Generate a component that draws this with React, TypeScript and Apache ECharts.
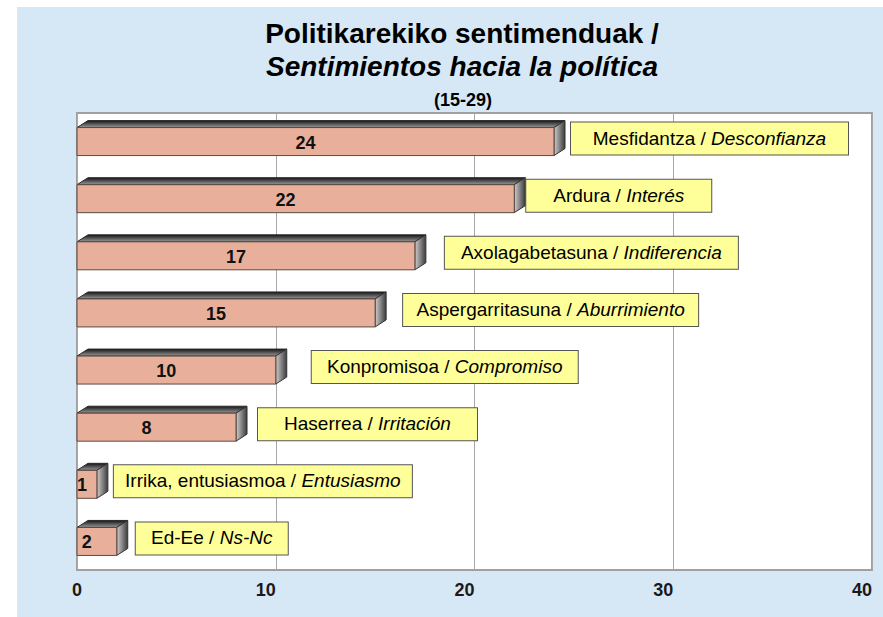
import React, { useEffect, useRef } from 'react';
import * as echarts from 'echarts';

// ---- data ----
const categoriesEu = ['Mesfidantza', 'Ardura', 'Axolagabetasuna', 'Aspergarritasuna', 'Konpromisoa', 'Haserrea', 'Irrika, entusiasmoa', 'Ed-Ee'];
const categoriesEs = ['Desconfianza', 'Interés', 'Indiferencia', 'Aburrimiento', 'Compromiso', 'Irritación', 'Entusiasmo', 'Ns-Nc'];
const values = [24, 22, 17, 15, 10, 8, 1, 2];
const xMin = 0;
const xMax = 40;
const xInterval = 10;

const titleLine1 = 'Politikarekiko sentimenduak /';
const titleLine2 = 'Sentimientos hacia la política';
const titleLine3 = '(15-29)';

// ---- layout (not data) ----
const labelGaps = [17, 12, 30, 28, 36, 22, 17, 19];
const labelBoxWidths = [279, 187, 295, 297, 268, 221, 300, 154];
const FONT = '"Liberation Sans", Arial, Helvetica, sans-serif';
const LABEL_SIZE = 19;

function measure(text: string, italic: boolean): number {
  const c = document.createElement('canvas').getContext('2d');
  if (!c) return text.length * LABEL_SIZE * 0.5;
  c.font = `${italic ? 'italic ' : ''}${LABEL_SIZE}px ${FONT}`;
  return c.measureText(text).width;
}

export default function App() {
  const ref = useRef<HTMLDivElement>(null);

  useEffect(() => {
    if (!ref.current) return;
    const chart = echarts.init(ref.current, undefined, { renderer: 'svg' });

    const topGrad = new echarts.graphic.LinearGradient(0, 0, 0, 1, [
      { offset: 0, color: '#151515' },
      { offset: 1, color: '#9a9a9a' },
    ]);
    const sideGrad = new echarts.graphic.LinearGradient(0, 0, 1, 0, [
      { offset: 0, color: '#d0cccc' },
      { offset: 1, color: '#3c3c3c' },
    ]);

    const textWidths = categoriesEu.map((c, i) => measure(`${c} / `, false) + measure(categoriesEs[i], true));

    const option: any = {
      animation: false,
      grid: {
        left: 77,
        right: 11,
        top: 113,
        bottom: 47,
        show: true,
        backgroundColor: '#ffffff',
        borderColor: '#a0a0a0',
        borderWidth: 2,
      },
      xAxis: {
        type: 'value',
        min: xMin,
        max: xMax,
        interval: xInterval,
        axisLine: { show: false },
        axisTick: { show: false },
        splitLine: { show: true, lineStyle: { color: '#a8a8a8', width: 1 } },
        axisLabel: {
          margin: 11,
          formatter: (v: number) => (v === 0 ? `{z|${v}}` : `{n|${v}}`),
          rich: {
            z: { fontFamily: FONT, fontSize: 18, fontWeight: 'bold', color: '#1a1a1a' },
            n: { fontFamily: FONT, fontSize: 18, fontWeight: 'bold', color: '#1a1a1a', padding: [0, 20, 0, 0] },
          },
        },
      },
      yAxis: {
        type: 'category',
        inverse: true,
        data: categoriesEu.map((c, i) => `${c} / ${categoriesEs[i]}`),
        axisLine: { show: false },
        axisTick: { show: false },
        axisLabel: { show: false },
        splitLine: { show: false },
      },
      series: [
        {
          type: 'custom',
          encode: { x: 1, y: 0 },
          data: values.map((v, i) => [i, v]),
          renderItem: (params: any, api: any) => {
            const idx = api.value(0);
            const v = api.value(1);
            const p1 = api.coord([v, idx]);
            const p0 = api.coord([0, idx]);
            const x0 = p0[0];
            const x1 = p1[0];
            const yc = p1[1];
            const band = api.size([0, 1])[1];
            const h = band * 0.49;
            const yTop = yc - h / 2;
            const yBot = yc + h / 2;
            const dx = 11;
            const dy = 7;
            const mid = (x0 + x1) / 2;
            const padH = Math.max(6, (labelBoxWidths[idx] - 2 - textWidths[idx]) / 2);
            return {
              type: 'group',
              children: [
                {
                  type: 'polygon',
                  shape: { points: [[x0, yTop], [x1, yTop], [x1 + dx, yTop - dy], [x0 + dx, yTop - dy]] },
                  style: { fill: topGrad, stroke: '#2a2a2a', lineWidth: 1 },
                },
                {
                  type: 'polygon',
                  shape: { points: [[x1, yTop], [x1 + dx, yTop - dy], [x1 + dx, yBot - dy], [x1, yBot]] },
                  style: { fill: sideGrad, stroke: '#333333', lineWidth: 1 },
                },
                {
                  type: 'rect',
                  shape: { x: x0, y: yTop, width: x1 - x0, height: h },
                  style: { fill: '#e8b09b', stroke: '#5a4a45', lineWidth: 1 },
                },
                {
                  type: 'text',
                  style: {
                    text: String(v),
                    x: Math.max(mid - 10, x0 + 5),
                    y: yc + 1,
                    align: 'center',
                    verticalAlign: 'middle',
                    font: `bold 18px ${FONT}`,
                    fill: '#111111',
                  },
                },
                {
                  type: 'text',
                  style: {
                    text: `{n|${categoriesEu[idx]} / }{i|${categoriesEs[idx]}}`,
                    rich: {
                      n: { fontFamily: FONT, fontSize: LABEL_SIZE, color: '#111111' },
                      i: { fontFamily: FONT, fontSize: LABEL_SIZE, fontStyle: 'italic', color: '#111111' },
                    },
                    x: x1 + labelGaps[idx],
                    y: yc - 3,
                    align: 'left',
                    verticalAlign: 'middle',
                    backgroundColor: '#ffff99',
                    borderColor: '#555555',
                    borderWidth: 1,
                    padding: [6, padH, 7, padH],
                  },
                },
              ],
            };
          },
        },
      ],
      graphic: [
        {
          type: 'text',
          x: 462,
          y: 33,
          style: { text: titleLine1, font: `bold 28px ${FONT}`, fill: '#000', align: 'center', verticalAlign: 'middle' },
        },
        {
          type: 'text',
          x: 462,
          y: 66,
          style: { text: titleLine2, font: `italic bold 28px ${FONT}`, fill: '#000', align: 'center', verticalAlign: 'middle' },
        },
        {
          type: 'text',
          x: 463,
          y: 100,
          style: { text: titleLine3, font: `bold 18px ${FONT}`, fill: '#000', align: 'center', verticalAlign: 'middle' },
        },
      ],
    };

    chart.setOption(option);
    return () => chart.dispose();
  }, []);

  return (
    <div style={{ position: 'fixed', left: 0, top: 0, width: 883, height: 617, background: '#ffffff' }}>
      <div style={{ position: 'absolute', left: 17, top: 7, width: 866, height: 610, background: '#d6e8f6' }} />
      <div ref={ref} style={{ position: 'absolute', left: 0, top: 0, width: 883, height: 617 }} />
    </div>
  );
}
